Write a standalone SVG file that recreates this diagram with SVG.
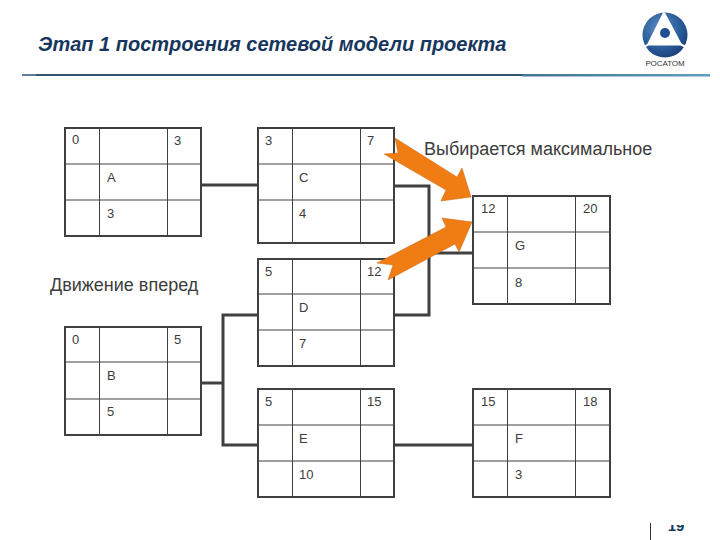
<svg xmlns="http://www.w3.org/2000/svg" width="720" height="540" viewBox="0 0 720 540">
<defs>
<linearGradient id="rule" x1="0" x2="1" y1="0" y2="0"><stop offset="0" stop-color="#3f7595"/><stop offset="1" stop-color="#5f9ec0"/></linearGradient>
<radialGradient id="globe" cx="0.4" cy="0.35" r="0.75"><stop offset="0" stop-color="#5f93c8"/><stop offset="0.55" stop-color="#2c5f9c"/><stop offset="1" stop-color="#173a72"/></radialGradient>
</defs>
<style>
.t{font-family:"Liberation Sans",Arial,sans-serif;font-size:13px;fill:#3c3c3c}
.big{font-size:18px}
.title{font-family:"Liberation Sans",Arial,sans-serif;font-size:20px;font-weight:bold;font-style:italic;fill:#17365d}
.o{fill:none;stroke:#404040;stroke-width:2}
.g{stroke:#404040;stroke-width:1;fill:none}
.c{fill:none;stroke:#404040;stroke-width:3}
.a{fill:#f07d14;stroke:#c9660f;stroke-width:.5}
</style>
<rect width="720" height="540" fill="#fff"/>
<text class="title" x="38" y="51">Этап 1 построения сетевой модели проекта</text>
<rect x="22" y="74" width="500" height="2" fill="#2f5573"/>
<rect x="22" y="74" width="14" height="2" fill="#5f7f98"/>
<rect x="522" y="74" width="188" height="2.500" fill="url(#rule)"/>
<g id="logo">
<circle cx="665" cy="35" r="22.500" fill="url(#globe)"/>
<path d="M664 14L680 44H649Z" fill="#fff" stroke="#fff" stroke-width="3" stroke-linejoin="round"/>
<path d="M664 13V18M680 44L686 47M649 44L644 47" stroke="#fff" stroke-width="2" fill="none"/>
<circle cx="665" cy="33" r="5" fill="#1f4f8f"/>
<text x="665" y="66" text-anchor="middle" font-family="'Liberation Sans',Arial,sans-serif" font-size="8" fill="#333">РОСАТОМ</text>
</g>
<g id="connectors">
<path class="c" d="M201 185H258"/>
<path class="c" d="M394 186H429V315H394"/>
<path class="c" d="M429 253H473"/>
<path class="c" d="M201 383H223"/>
<path class="c" d="M258 315H223V445H258"/>
<path class="c" d="M394 445H473"/>
</g>
<g id="node-a"><path class="g" d="M99.500 128V236M167.500 128V236M65 164H201M65 200H201"/><rect class="o" x="65" y="128" width="136" height="108"/>
<text class="t" x="72" y="144">0</text><text class="t" x="174" y="145">3</text><text class="t" x="107" y="182">A</text><text class="t" x="107" y="218">3</text></g>
<g id="node-c"><path class="g" d="M292.500 128V243M360.500 128V243M258 164H394M258 200H394"/><rect class="o" x="258" y="128" width="136" height="115"/>
<text class="t" x="265" y="145">3</text><text class="t" x="367" y="145">7</text><text class="t" x="299" y="182">C</text><text class="t" x="299" y="218">4</text></g>
<g id="node-b"><path class="g" d="M99.500 327V435M167.500 327V435M65 362H201M65 399H201"/><rect class="o" x="65" y="327" width="136" height="108"/>
<text class="t" x="72" y="344">0</text><text class="t" x="174" y="344">5</text><text class="t" x="107" y="380">B</text><text class="t" x="107" y="416">5</text></g>
<g id="node-d"><path class="g" d="M292.500 259V366M360.500 259V366M258 294H394M258 330H394"/><rect class="o" x="258" y="259" width="136" height="107"/>
<text class="t" x="265" y="276">5</text><text class="t" x="367" y="276">12</text><text class="t" x="299" y="312">D</text><text class="t" x="299" y="348">7</text></g>
<g id="node-e"><path class="g" d="M292.500 389V497M360.500 389V497M258 425H394M258 461H394"/><rect class="o" x="258" y="389" width="136" height="108"/>
<text class="t" x="265" y="406">5</text><text class="t" x="367" y="406">15</text><text class="t" x="299" y="443">E</text><text class="t" x="299" y="479">10</text></g>
<g id="node-g"><path class="g" d="M507.500 196V304M575.500 196V304M473 232H610M473 268H610"/><rect class="o" x="473" y="196" width="137" height="108"/>
<text class="t" x="481" y="213">12</text><text class="t" x="583" y="213">20</text><text class="t" x="515" y="250">G</text><text class="t" x="515" y="287">8</text></g>
<g id="node-f"><path class="g" d="M507.500 389V497M575.500 389V497M473 425H610M473 461H610"/><rect class="o" x="473" y="389" width="137" height="108"/>
<text class="t" x="481" y="406">15</text><text class="t" x="583" y="406">18</text><text class="t" x="515" y="443">F</text><text class="t" x="515" y="479">3</text></g>
<polygon class="a" points="395,138 398,153 384,154 446,190 441,201 471,197 462,168 457,177"/>
<polygon class="a" points="377,263 393,265 388,280 455,244 459,252 472,222 442,218 446,227"/>
<text class="t big" x="424" y="155">Выбирается максимальное</text>
<text class="t big" x="50" y="291">Движение вперед</text>
<path d="M650.500 523V540" stroke="#333" fill="none"/>
<text x="676" y="531" text-anchor="middle" font-family="'Liberation Sans',Arial,sans-serif" font-size="15" font-weight="bold" fill="#17365d">19</text>
<rect x="660" y="510" width="40" height="15" fill="#fff"/>
</svg>
